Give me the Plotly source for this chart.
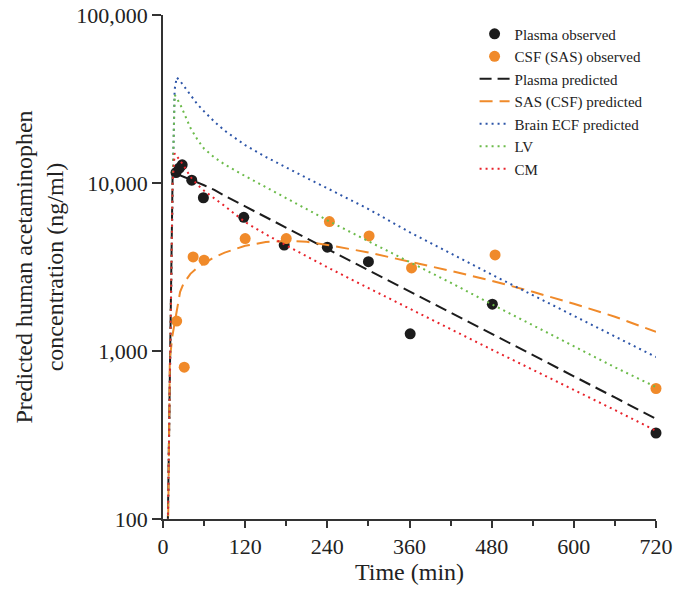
import plotly.graph_objects as go

# ---------------- data ----------------
plasma_obs_t = [19, 24, 28, 42, 59, 118, 177, 240, 300, 361, 481, 720]
plasma_obs_c = [11540, 12280, 12830, 10400, 8170, 6250, 4270, 4150, 3400, 1265, 1900, 325]

csf_obs_t = [20, 31, 44, 60, 120, 180, 243, 301, 363, 485, 720]
csf_obs_c = [1507, 801, 3630, 3470, 4670, 4670, 5890, 4840, 3120, 3730, 598]

pred_t = [7, 10, 14, 17, 20, 25, 30, 40, 50, 60, 75, 90, 120, 150, 180, 210, 240,
          300, 360, 420, 480, 540, 600, 660, 720]
plasma_pred = [90, 700, 11000, 11600, 11400, 11100, 10900, 10500, 10150, 9700, 9100, 8400,
               7250, 6265, 5415, 4680, 4050, 3025, 2265, 1693, 1265, 946, 707, 529, 395]
sas_pred = [60, 900, 1250, 1480, 1800, 2250, 2520, 2880, 3130, 3330, 3620, 3850,
            4230, 4450, 4520, 4470, 4280, 3860, 3420, 3000, 2620, 2250, 1910, 1600, 1300]
ecf_pred = [90, 750, 9000, 36000, 42500, 40500, 38000, 33500, 29500, 26700, 23200, 20500,
            16800, 14300, 12300, 10700, 9300, 7000, 5100, 3800, 2850, 2150, 1620, 1220, 920]
lv_pred = [90, 750, 10000, 33500, 32000, 29500, 26500, 21300, 18200, 16000, 14200, 12900,
           11000, 9450, 8100, 7000, 6000, 4500, 3400, 2550, 1900, 1420, 1060, 800, 610]
cm_pred = [90, 700, 10000, 15000, 14500, 13600, 12700, 10900, 9800, 9000, 8100, 7300,
           5850, 4950, 4250, 3650, 3150, 2370, 1780, 1350, 1020, 775, 590, 445, 335]

x_ticks = [0, 120, 240, 360, 480, 600, 720]
y_ticks = [100, 1000, 10000, 100000]
y_ticktext = ["100", "1,000", "10,000", "100,000"]

# ---------------- styles ----------------
FONT = "Liberation Serif"
BLACK = "#1c1c1c"
ORANGE = "#f08a2a"
BLUE = "#2d55a8"
GREEN = "#6cbb4a"
RED = "#e8232b"

fig = go.Figure()

fig.add_trace(go.Scatter(x=plasma_obs_t, y=plasma_obs_c, mode="markers", name="Plasma observed",
                         marker=dict(color=BLACK, size=11), cliponaxis=False, legendgroup="a"))
fig.add_trace(go.Scatter(x=csf_obs_t, y=csf_obs_c, mode="markers", name="CSF (SAS) observed",
                         marker=dict(color=ORANGE, size=11), cliponaxis=False, legendgroup="b"))
fig.add_trace(go.Scatter(x=pred_t, y=plasma_pred, mode="lines", name="Plasma predicted",
                         line=dict(color=BLACK, width=2, dash="12px,6px"), legendgroup="c"))
fig.add_trace(go.Scatter(x=pred_t, y=sas_pred, mode="lines", name="SAS (CSF) predicted",
                         line=dict(color=ORANGE, width=2, dash="13px,7px"), legendgroup="d"))
fig.add_trace(go.Scatter(x=pred_t, y=ecf_pred, mode="lines", name="Brain ECF predicted",
                         line=dict(color=BLUE, width=2, dash="2px,4px"), legendgroup="e"))
fig.add_trace(go.Scatter(x=pred_t, y=lv_pred, mode="lines", name="LV",
                         line=dict(color=GREEN, width=2, dash="2px,4px"), legendgroup="f"))
fig.add_trace(go.Scatter(x=pred_t, y=cm_pred, mode="lines", name="CM",
                         line=dict(color=RED, width=2, dash="2px,4px"), legendgroup="g"))

fig.update_layout(
    width=676, height=589,
    margin=dict(l=163, r=20, t=15, b=70),
    paper_bgcolor="white", plot_bgcolor="white",
    font=dict(family=FONT, color="#222222", size=22),
    showlegend=True,
    legend=dict(x=0.632, y=0.995, xanchor="left", yanchor="top",
                font=dict(family=FONT, size=15, color="#222222"),
                bgcolor="rgba(0,0,0,0)", tracegroupgap=0, traceorder="normal"),
)

fig.update_xaxes(
    range=[0, 720], tickmode="array", tickvals=x_ticks,
    showgrid=False, zeroline=False,
    showline=True, linecolor="#333333", linewidth=1.5,
    ticks="outside", ticklen=7, tickwidth=1.5, tickcolor="#333333",
    minor=dict(dtick=60, ticks="outside", ticklen=5, tickwidth=1.5, tickcolor="#333333", showgrid=False),
    tickfont=dict(family=FONT, size=22, color="#222222"),
    title=dict(text="Time (min)", font=dict(family=FONT, size=24, color="#222222"), standoff=4),
    automargin=False,
)
fig.update_yaxes(
    type="log", range=[2, 5], tickmode="array", tickvals=y_ticks, ticktext=y_ticktext,
    showgrid=False, zeroline=False,
    showline=True, linecolor="#333333", linewidth=1.5,
    ticks="outside", ticklen=9, tickwidth=1.5, tickcolor="#333333",
    tickfont=dict(family=FONT, size=22, color="#222222"),
    title=dict(text="Predicted human acetaminophen<br>concentration (ng/ml)",
               font=dict(family=FONT, size=24, color="#222222"), standoff=6),
    automargin=False,
)

fig.write_html("out.html", config={"displayModeBar": False},
               post_script="document.body.style.margin='0';document.body.style.overflow='hidden';")
